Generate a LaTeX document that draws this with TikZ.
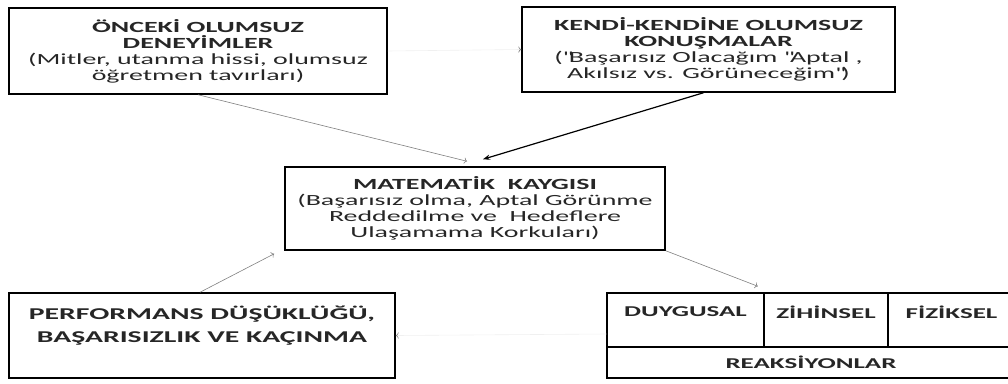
\documentclass[tikz,border=0pt]{standalone}
\usepackage{fontspec}
\setmainfont{Carlito}[FakeStretch=1.8]
\usetikzlibrary{arrows.meta}

\begin{document}
\begin{tikzpicture}[x=1pt,y=-1pt]
\tikzstyle{bx}=[draw, line width=1.5pt, align=center, inner sep=2pt, text=black!85, font=\fontsize{15.5}{16}\selectfont]
\tikzstyle{cell}=[draw, line width=1.5pt, align=center, inner sep=0pt, text=black!85, font=\bfseries\fontsize{15}{16}\selectfont]
\tikzstyle{ln}=[gray, line width=0.6pt, -{To}]
\tikzstyle{faint}=[black!6, line width=0.6pt, -{To[color=gray]}]
\useasboundingbox (0,0) rectangle (1008,383);
\clip (0,0) rectangle (1008,383);

\node[bx, minimum width=378, minimum height=86] (onc) at (198,51) {\textbf{ÖNCEKİ OLUMSUZ}\\ \textbf{DENEYİMLER}\\ (Mitler, utanma hissi, olumsuz\\ öğretmen tavırları)};
\node[bx, minimum width=373, minimum height=85] (kend) at (708.5,49.5) {\textbf{KENDİ-KENDİNE OLUMSUZ}\\ \textbf{KONUŞMALAR}\\ (\textquotedbl Başarısız Olacağım \textquotedbl Aptal ,\\ Akılsız vs. Görüneceğim\textquotedbl)};

\node[bx, minimum width=380, minimum height=83] (mat) at (475,208.5) {\textbf{MATEMATİK\ \ KAYGISI}\\ (Başarısız olma, Aptal Görünme\\ Reddedilme ve\ \ Hedeflere\\ Ulaşamama Korkuları)};

\node[bx, minimum width=386, minimum height=85, font=\bfseries\fontsize{16.5}{23}\selectfont] (perf) at (202,335.5) {PERFORMANS DÜŞÜKLÜĞÜ,\\ BAŞARISIZLIK VE KAÇINMA\\ \mbox{}};

% reaksiyonlar tablosu
\node[cell, minimum width=157, minimum height=54] (duyg) at (685.5,320) {DUYGUSAL\\ \mbox{}};
\node[cell, minimum width=124, minimum height=54] (zih) at (826,320) {ZİHİNSEL\\ \mbox{}};
\node[cell, minimum width=127, minimum height=54] (fiz) at (951.5,320) {FİZİKSEL\\ \mbox{}};
\node[cell, minimum width=408, minimum height=31] (reak) at (811,362.5) {REAKSİYONLAR};

\draw[ln] (onc.south) -- ([xshift=-8pt,yshift=5pt]mat.north);
\draw[line width=1.2pt, -{Stealth[length=7pt]}] ([xshift=-5pt]kend.south) -- ([xshift=8pt,yshift=7pt]mat.north);
\draw[ln] ([xshift=-2pt]perf.north) -- ([xshift=-10pt,yshift=-3pt]mat.south west);
\draw[ln] (mat.south east) -- ([xshift=-7pt,yshift=6pt]duyg.north east);
\draw[faint] (onc.east) -- (kend.west);
\draw[faint] ([yshift=-14pt]duyg.west) -- (perf.east);
%\draw[ln] (reak.west) -- (perf.east);
\end{tikzpicture}
\end{document}
